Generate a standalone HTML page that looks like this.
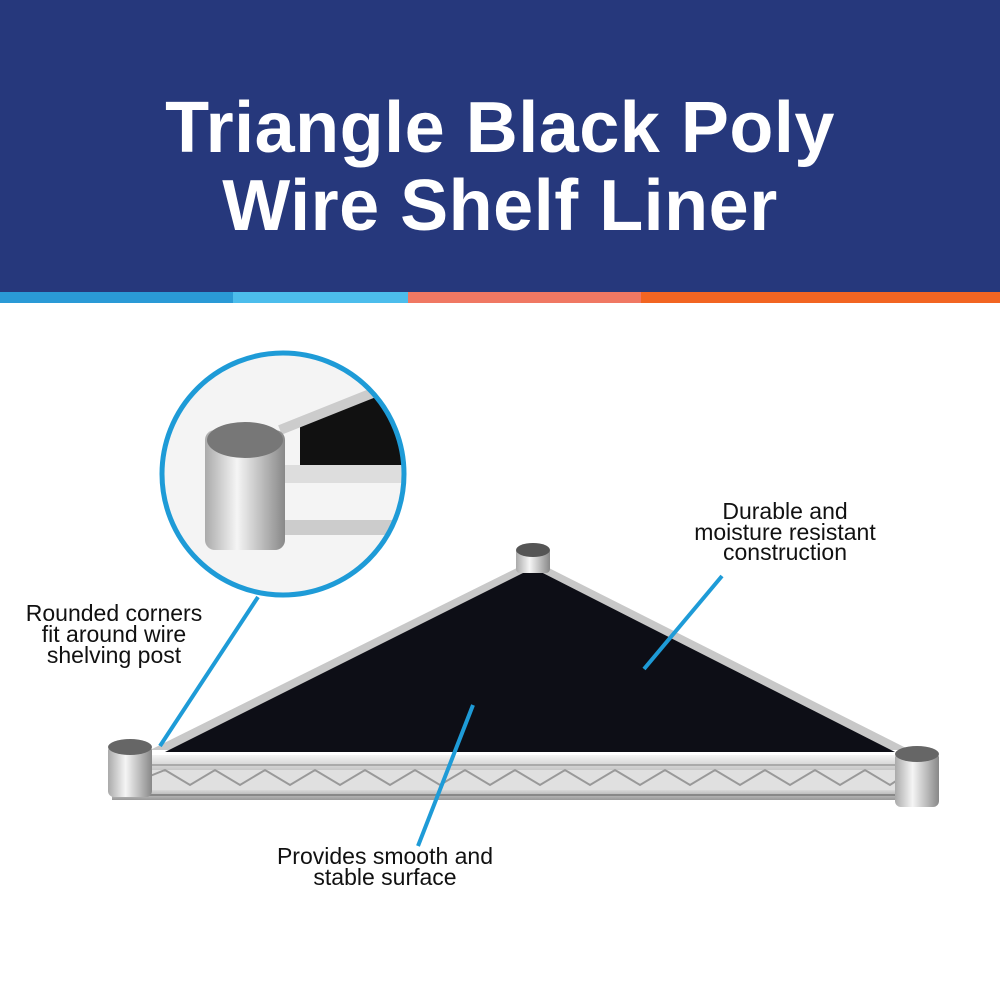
<!DOCTYPE html>
<html><head><style>
body{margin:0;width:1000px;height:1000px;overflow:hidden;background:#fff;font-family:"Liberation Sans",sans-serif}
</style></head><body>
<svg width="1000" height="1000" viewBox="0 0 1000 1000" xmlns="http://www.w3.org/2000/svg">
<defs>
<linearGradient id="chrome" x1="0" y1="0" x2="0" y2="1">
<stop offset="0" stop-color="#f4f4f4"/><stop offset="0.4" stop-color="#bdbdbd"/><stop offset="0.7" stop-color="#eee"/><stop offset="1" stop-color="#999"/>
</linearGradient>
<linearGradient id="post" x1="0" y1="0" x2="1" y2="0">
<stop offset="0" stop-color="#aaa"/><stop offset="0.4" stop-color="#f5f5f5"/><stop offset="1" stop-color="#888"/>
</linearGradient>
<clipPath id="cc"><circle cx="283" cy="474" r="120"/></clipPath>
</defs>
<rect x="0" y="0" width="1000" height="292" fill="#26387c"/>
<rect x="0" y="292" width="233" height="11" fill="#2a9ad6"/>
<rect x="233" y="292" width="175" height="11" fill="#4cbdec"/>
<rect x="408" y="292" width="233" height="11" fill="#f07863"/>
<rect x="641" y="292" width="359" height="11" fill="#f26522"/>
<g font-family="Liberation Sans, sans-serif" font-weight="bold" font-size="72" fill="#fff" text-anchor="middle" letter-spacing="0.5">
<text x="500" y="152">Triangle Black Poly</text>
<text x="500" y="230">Wire Shelf Liner</text>
</g>
<polygon points="533,560 150,750 910,750" fill="#c8c8c8"/>
<polygon points="533,568 165,752 895,752" fill="#0d0e16"/>
<rect x="112" y="755" width="820" height="45" fill="url(#chrome)"/>
<rect x="125" y="770" width="795" height="20" fill="#e0e0e0"/>
<polyline points="140,780 165,770 190,785 215,770 240,785 265,770 290,785 315,770 340,785 365,770 390,785 415,770 440,785 465,770 490,785 515,770 540,785 565,770 590,785 615,770 640,785 665,770 690,785 715,770 740,785 765,770 790,785 815,770 840,785 865,770 890,785 905,775" fill="none" stroke="#999" stroke-width="2"/>
<line x1="112" y1="765" x2="932" y2="765" stroke="#aaa" stroke-width="2"/>
<line x1="112" y1="795" x2="932" y2="795" stroke="#888" stroke-width="2"/>
<rect x="108" y="745" width="44" height="52" rx="6" fill="url(#post)"/>
<ellipse cx="130" cy="747" rx="22" ry="8" fill="#666"/>
<rect x="895" y="752" width="44" height="55" rx="6" fill="url(#post)"/>
<ellipse cx="917" cy="754" rx="22" ry="8" fill="#666"/>
<rect x="516" y="548" width="34" height="25" rx="4" fill="url(#post)"/>
<ellipse cx="533" cy="550" rx="17" ry="7" fill="#555"/>
<g clip-path="url(#cc)">
<rect x="160" y="350" width="250" height="250" fill="#f4f4f4"/>
<polygon points="300,425 410,370 410,470 300,470" fill="#111"/>
<line x1="280" y1="430" x2="410" y2="378" stroke="#ccc" stroke-width="10"/>
<rect x="280" y="465" width="130" height="18" fill="#ddd"/>
<rect x="280" y="520" width="130" height="15" fill="#ccc"/>
<rect x="205" y="430" width="80" height="120" rx="10" fill="url(#post)"/>
<ellipse cx="245" cy="440" rx="38" ry="18" fill="#777"/>
</g>
<circle cx="283" cy="474" r="121" fill="none" stroke="#1e9bd7" stroke-width="5"/>
<g stroke="#1e9bd7" stroke-width="4">
<line x1="258" y1="597" x2="160" y2="746"/>
<line x1="722" y1="576" x2="644" y2="669"/>
<line x1="473" y1="705" x2="418" y2="846"/>
</g>
<g font-family="Liberation Sans, sans-serif" font-size="23" fill="#111" text-anchor="middle">
<text x="114" y="621">Rounded corners</text>
<text x="114" y="642">fit around wire</text>
<text x="114" y="663">shelving post</text>
<text x="785" y="519">Durable and</text>
<text x="785" y="540">moisture resistant</text>
<text x="785" y="560">construction</text>
<text x="385" y="864">Provides smooth and</text>
<text x="385" y="885">stable surface</text>
</g>
</svg>
</body></html>
